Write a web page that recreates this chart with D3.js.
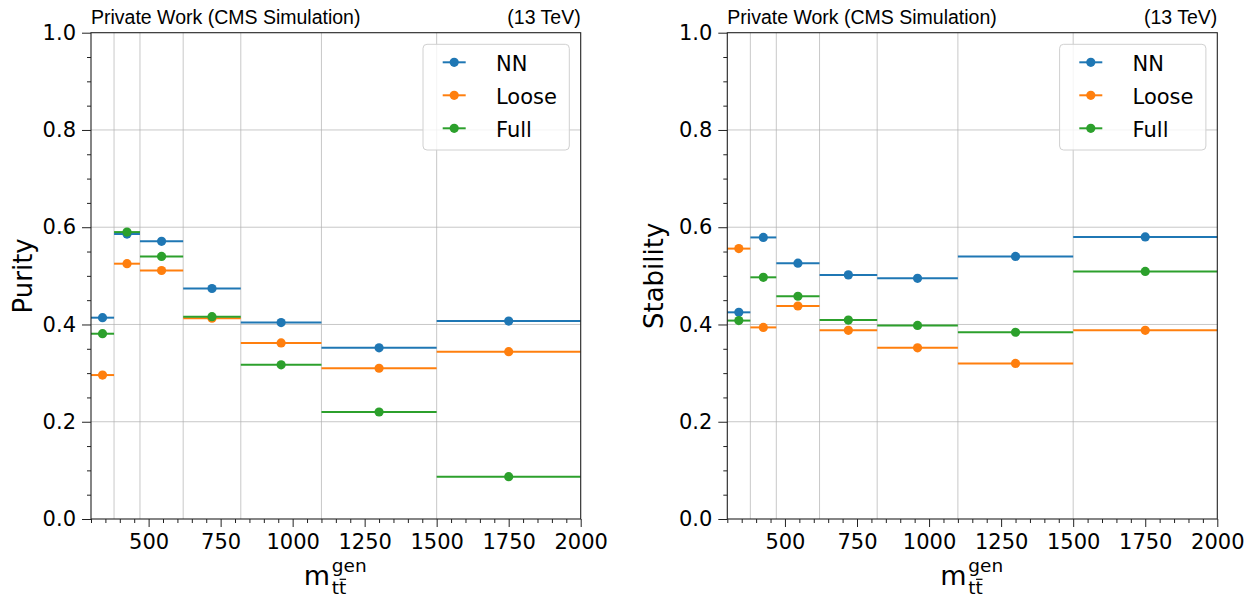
<!DOCTYPE html>
<html>
<head>
<meta charset="utf-8">
<script src="https://cdn.jsdelivr.net/npm/d3@7"></script>
<style>
  html, body { margin: 0; padding: 0; background: #fff; }
  svg text { font-family: "DejaVu Sans", sans-serif; fill: #000; }
</style>
</head>
<body>
<svg id="chart" width="1255" height="597"></svg>
<script>
// m_tt gen bins
const binEdges = [300, 380, 470, 620, 820, 1100, 1500, 2000];
const xTicks = [500, 750, 1000, 1250, 1500, 1750, 2000];
const yTicks = [0.0, 0.2, 0.4, 0.6, 0.8, 1.0];

const seriesNames = ["NN", "Loose", "Full"];
const seriesColors = ["#1f77b4", "#ff7f0e", "#2ca02c"];

// Purity per bin
const purityNN    = [0.414, 0.586, 0.571, 0.474, 0.404, 0.352, 0.407];
const purityLoose = [0.296, 0.525, 0.511, 0.413, 0.362, 0.310, 0.344];
const purityFull  = [0.381, 0.590, 0.540, 0.416, 0.317, 0.220, 0.087];

// Stability per bin
const stabilityNN    = [0.425, 0.579, 0.526, 0.502, 0.495, 0.540, 0.580];
const stabilityLoose = [0.556, 0.394, 0.438, 0.388, 0.352, 0.320, 0.388];
const stabilityFull  = [0.408, 0.497, 0.458, 0.409, 0.398, 0.384, 0.509];

const svg = d3.select("#chart");

function drawPanel(opts) {
  const { left, right, top, bottom, yLabel, series, yLabelOffset } = opts;
  const x = d3.scaleLinear().domain([300, 2000]).range([left, right]);
  const y = d3.scaleLinear().domain([0, 1]).range([bottom, top]);
  const g = svg.append("g");

  // grid: horizontal at major y ticks, vertical at inner bin edges
  const grid = g.append("g").attr("stroke", "#b0b0b0").attr("stroke-opacity", 0.7).attr("stroke-width", 1);
  grid.selectAll("line.h").data(yTicks.filter(v => v > 0 && v < 1)).join("line")
    .attr("x1", left).attr("x2", right)
    .attr("y1", d => y(d)).attr("y2", d => y(d));
  grid.selectAll("line.v").data(binEdges.slice(1, -1)).join("line")
    .attr("x1", d => x(d)).attr("x2", d => x(d))
    .attr("y1", top).attr("y2", bottom);

  // series: horizontal bin-width bars with a marker at the bin centre
  series.forEach((vals, si) => {
    const col = seriesColors[si];
    const sg = g.append("g");
    const pts = vals.map((v, i) => ({ lo: binEdges[i], hi: binEdges[i + 1], c: (binEdges[i] + binEdges[i + 1]) / 2, v }));
    sg.selectAll("line").data(pts).join("line")
      .attr("x1", d => x(d.lo)).attr("x2", d => x(d.hi))
      .attr("y1", d => y(d.v)).attr("y2", d => y(d.v))
      .attr("stroke", col).attr("stroke-width", 2);
    sg.selectAll("circle").data(pts).join("circle")
      .attr("cx", d => x(d.c)).attr("cy", d => y(d.v)).attr("r", 4.6)
      .attr("fill", col);
  });

  // axes
  const fmt = d3.format(".1f");
  g.append("g").attr("transform", `translate(${left},0)`)
    .call(d3.axisLeft(y).tickValues(yTicks).tickFormat(fmt).tickSize(9).tickPadding(6));
  const yMinor = d3.range(0, 1.0001, 0.05).filter(v => Math.abs(v * 5 - Math.round(v * 5)) > 1e-6);
  g.append("g").attr("transform", `translate(${left},0)`)
    .call(d3.axisLeft(y).tickValues(yMinor).tickFormat("").tickSize(4));
  g.append("g").attr("transform", `translate(0,${bottom})`)
    .call(d3.axisBottom(x).tickValues(xTicks).tickFormat(d3.format("d")).tickSize(8).tickPadding(7));
  const xMinor = d3.range(300, 2001, 50).filter(v => v % 250 !== 0);
  g.append("g").attr("transform", `translate(0,${bottom})`)
    .call(d3.axisBottom(x).tickValues(xMinor).tickFormat("").tickSize(4));
  g.selectAll(".domain").remove();
  g.selectAll(".tick line").attr("stroke", "#222").attr("stroke-width", 1);
  g.selectAll(".tick text").style("font-size", "21px").style("font-family", "DejaVu Sans");

  // frame
  g.append("rect").attr("x", left).attr("y", top)
    .attr("width", right - left).attr("height", bottom - top)
    .attr("fill", "none").attr("stroke", "#222").attr("stroke-width", 1.1);

  // header texts
  g.append("text").attr("x", left).attr("y", 23.5)
    .style("font-family", "Liberation Sans, Arial, sans-serif").style("font-size", "19.5px")
    .text("Private Work (CMS Simulation)");
  g.append("text").attr("x", right).attr("y", 23.5).attr("text-anchor", "end")
    .style("font-family", "Liberation Sans, Arial, sans-serif").style("font-size", "19.5px")
    .text("(13 TeV)");

  // y label
  const cy = (top + bottom) / 2;
  g.append("text").attr("transform", `translate(${left - yLabelOffset},${cy}) rotate(-90)`)
    .attr("text-anchor", "middle").style("font-size", "26px").text(yLabel);

  // x label: m_{t\bar{t}}^{gen}
  const cx = (left + right) / 2;
  const xl = g.append("g");
  xl.append("text").attr("x", cx - 32).attr("y", 585).style("font-size", "27px").text("m");
  xl.append("text").attr("x", cx - 4).attr("y", 572).style("font-size", "18.5px").text("gen");
  const sub = xl.append("text").attr("x", cx - 4).attr("y", 593.5).style("font-size", "18.5px").text("tt");
  const node = sub.node();
  const w1 = node.getSubStringLength(0, 1);
  const w2 = node.getComputedTextLength();
  xl.append("line")
    .attr("x1", cx - 4 + w1 + 0.5).attr("x2", cx - 4 + w2 - 0.3)
    .attr("y1", 579.3).attr("y2", 579.3)
    .attr("stroke", "#000").attr("stroke-width", 1.2);

  // legend
  const lx = right - 157.7, ly = 44.3, lw = 146.3, lh = 105.7;
  const lg = g.append("g");
  lg.append("rect").attr("x", lx).attr("y", ly).attr("width", lw).attr("height", lh)
    .attr("rx", 4).attr("fill", "#fff").attr("fill-opacity", 0.8)
    .attr("stroke", "#d0d0d0").attr("stroke-width", 1);
  seriesNames.forEach((name, i) => {
    const ry = 62.3 + i * 33;
    lg.append("line").attr("x1", lx + 19.7).attr("x2", lx + 42.7)
      .attr("y1", ry).attr("y2", ry).attr("stroke", seriesColors[i]).attr("stroke-width", 2);
    lg.append("circle").attr("cx", lx + 31.2).attr("cy", ry).attr("r", 4.6).attr("fill", seriesColors[i]);
    lg.append("text").attr("x", lx + 73).attr("y", ry + 8.3)
      .style("font-size", "21px").text(name);
  });
}

drawPanel({
  left: 91, right: 580.7, top: 32.7, bottom: 519,
  yLabel: "Purity", yLabelOffset: 59.5,
  series: [purityNN, purityLoose, purityFull]
});
drawPanel({
  left: 727.3, right: 1217.3, top: 32.7, bottom: 519,
  yLabel: "Stability", yLabelOffset: 64,
  series: [stabilityNN, stabilityLoose, stabilityFull]
});
</script>
</body>
</html>
